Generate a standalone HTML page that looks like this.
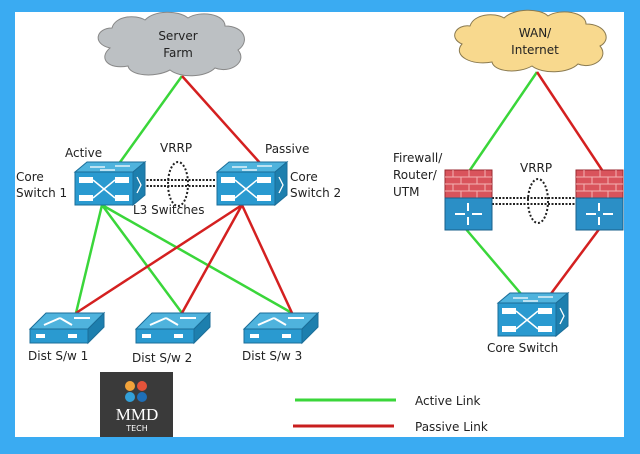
<!DOCTYPE html>
<html><head><style>
html,body{margin:0;padding:0;background:#3aabf2;}
svg{display:block;font-family:"DejaVu Sans","Liberation Sans",sans-serif;}
</style></head><body>
<svg width="640" height="454" viewBox="0 0 640 454" xmlns="http://www.w3.org/2000/svg">
<defs>
<g id="sw">
 <polygon points="0,10 12,0 70,0 58,10" fill="#4fb3dd" stroke="#1b6e99" stroke-width="1"/>
 <polygon points="58,10 70,0 70,33 58,43" fill="#1d7fae" stroke="#1b6e99"/>
 <rect x="0" y="10" width="58" height="33" fill="#2a9ad0" stroke="#1b6e99"/>
 <rect x="4" y="15" width="14" height="6" fill="#fff"/><rect x="40" y="15" width="14" height="6" fill="#fff"/>
 <rect x="4" y="33" width="14" height="6" fill="#fff"/><rect x="40" y="33" width="14" height="6" fill="#fff"/>
 <path d="M18,18 L40,36 M18,36 L40,18" stroke="#fff" stroke-width="1.5"/>
 <path d="M15,5 h15 M40,4 h15 M25,8 h15" stroke="#fff" stroke-width="1.3"/>
 <path d="M62,15 l4,8 -4,8" stroke="#fff" fill="none" stroke-width="1.3"/>
</g>
<g id="ds">
 <polygon points="0,16 16,0 74,0 58,16" fill="#4fb3dd" stroke="#1b6e99"/>
 <polygon points="58,16 74,0 74,14 58,30" fill="#1d7fae" stroke="#1b6e99"/>
 <rect x="0" y="16" width="58" height="14" fill="#2a9ad0" stroke="#1b6e99"/>
 <rect x="6" y="21" width="9" height="4" fill="#fff"/><rect x="38" y="21" width="9" height="4" fill="#fff"/>
 <path d="M14,12 l16,-7 M30,5 l12,7 M44,5 l16,0" stroke="#fff" stroke-width="2"/>
</g>
<g id="fw">
 <rect x="0" y="0" width="47" height="28" fill="#d9545c" stroke="#9a2a30"/>
 <path d="M0,7 h47 M0,14 h47 M0,21 h47 M8,0 v7 M24,0 v7 M40,0 v7 M16,7 v7 M32,7 v7 M8,14 v7 M24,14 v7 M40,14 v7 M16,21 v7 M32,21 v7" stroke="#f3b3b3" stroke-width="1"/>
 <rect x="0" y="28" width="47" height="32" fill="#2b8fc6" stroke="#1a5f8a"/>
 <path d="M10,44 h10 M27,44 h10 M23,33 v8 M23,47 v8" stroke="#fff" stroke-width="2"/>
</g>
</defs>
<rect x="15" y="12" width="609" height="425" fill="#fff"/>
<!-- left links -->
<line x1="182" y1="76" x2="118" y2="165" stroke="#3ad63a" stroke-width="2.5"/>
<line x1="182" y1="76" x2="260" y2="163" stroke="#d42020" stroke-width="2.5"/>
<g stroke="#3ad63a" stroke-width="2.5">
<line x1="102" y1="205" x2="76" y2="313"/><line x1="102" y1="205" x2="182" y2="313"/><line x1="102" y1="205" x2="292" y2="313"/>
</g>
<g stroke="#d42020" stroke-width="2.5">
<line x1="242" y1="205" x2="76" y2="313"/><line x1="242" y1="205" x2="182" y2="313"/><line x1="242" y1="205" x2="292" y2="313"/>
</g>
<!-- right links -->
<line x1="537" y1="72" x2="470" y2="170" stroke="#3ad63a" stroke-width="2.5"/>
<line x1="537" y1="72" x2="602" y2="170" stroke="#d42020" stroke-width="2.5"/>
<line x1="465" y1="228" x2="522" y2="295" stroke="#3ad63a" stroke-width="2.5"/>
<line x1="600" y1="228" x2="550" y2="295" stroke="#d42020" stroke-width="2.5"/>
<!-- clouds -->
<path d="M110,48 C92,44 96,28 112,28 C115,16 135,14 145,20 C155,10 178,10 188,18 C200,10 225,14 225,26 C245,26 250,42 238,50 C248,62 230,74 215,68 C205,78 180,78 170,70 C155,78 130,76 128,66 C108,70 98,58 110,48 Z" fill="#bcc0c3" stroke="#888" stroke-width="1"/>
<text x="178" y="40" font-size="12" text-anchor="middle" fill="#222">Server</text>
<text x="178" y="57" font-size="12" text-anchor="middle" fill="#222">Farm</text>
<path d="M462,44 C448,38 456,24 470,26 C474,14 494,12 504,18 C514,8 540,8 548,16 C560,8 586,12 586,24 C606,24 612,40 600,46 C610,58 592,70 578,64 C568,74 542,74 532,66 C518,74 494,72 492,62 C472,66 452,56 462,44 Z" fill="#f8d98e" stroke="#8a7a50" stroke-width="1"/>
<text x="535" y="37" font-size="12" text-anchor="middle" fill="#222">WAN/</text>
<text x="535" y="54" font-size="12" text-anchor="middle" fill="#222">Internet</text>
<!-- vrrp left -->
<g stroke="#222" stroke-width="2" stroke-dasharray="2,1.5">
<line x1="143" y1="180" x2="220" y2="180"/><line x1="143" y1="186" x2="220" y2="186"/>
<line x1="492" y1="198" x2="575" y2="198"/><line x1="492" y1="204" x2="575" y2="204"/>
</g>
<ellipse cx="178" cy="184" rx="10" ry="22" fill="none" stroke="#222" stroke-width="2" stroke-dasharray="2,2"/>
<ellipse cx="538" cy="201" rx="10" ry="22" fill="none" stroke="#222" stroke-width="2" stroke-dasharray="2,2"/>
<use href="#sw" x="75" y="162"/>
<use href="#sw" x="217" y="162"/>
<use href="#sw" x="498" y="293"/>
<use href="#ds" x="30" y="313"/>
<use href="#ds" x="136" y="313"/>
<use href="#ds" x="244" y="313"/>
<use href="#fw" x="445" y="170"/>
<use href="#fw" x="576" y="170"/>
<g font-size="12" fill="#222">
<text x="65" y="157">Active</text>
<text x="160" y="152">VRRP</text>
<text x="265" y="153">Passive</text>
<text x="16" y="181">Core</text><text x="16" y="197">Switch 1</text>
<text x="290" y="181">Core</text><text x="290" y="197">Switch 2</text>
<text x="133" y="214">L3 Switches</text>
<text x="28" y="360">Dist S/w 1</text>
<text x="132" y="362">Dist S/w 2</text>
<text x="242" y="360">Dist S/w 3</text>
<text x="393" y="162">Firewall/</text><text x="393" y="179">Router/</text><text x="393" y="196">UTM</text>
<text x="520" y="172">VRRP</text>
<text x="487" y="352">Core Switch</text>
<text x="415" y="405">Active Link</text>
<text x="415" y="431">Passive Link</text>
</g>
<line x1="295" y1="400" x2="396" y2="400" stroke="#3ad63a" stroke-width="3"/>
<line x1="293" y1="426" x2="394" y2="426" stroke="#c81e1e" stroke-width="3"/>
<!-- logo -->
<rect x="100" y="372" width="73" height="65" fill="#3a3a3a"/>
<circle cx="130" cy="386" r="5" fill="#f2a33a"/><circle cx="142" cy="386" r="5" fill="#e4533a"/>
<circle cx="130" cy="397" r="5" fill="#33a0d8"/><circle cx="142" cy="397" r="5" fill="#1e6fb8"/>
<text x="137" y="420" font-family="Liberation Serif,serif" font-size="17" fill="#fff" text-anchor="middle">MMD</text>
<text x="137" y="431" font-size="8" fill="#fff" text-anchor="middle">TECH</text>
</svg>
</body></html>
